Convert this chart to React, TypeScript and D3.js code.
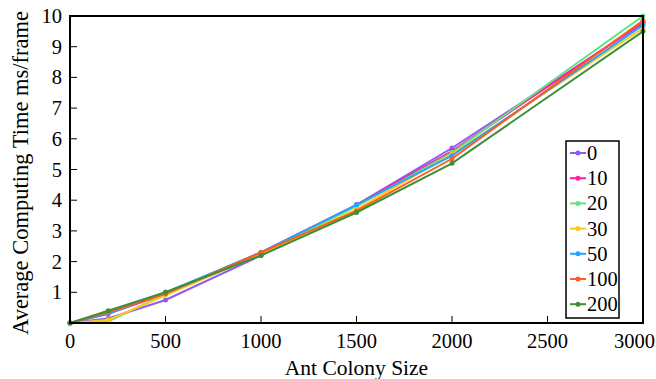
import React from 'react';
import * as d3 from 'd3';

const sizes = [0, 200, 500, 1000, 1500, 2000, 3000];
const seriesNames = ['0', '10', '20', '30', '50', '100', '200'];
const seriesColors = ['#8f5cf6', '#ff1fa0', '#5ee383', '#ffc61a', '#1fa6ff', '#ff5c1f', '#3d8f3d'];
const v0 = [0, 0.15, 0.75, 2.2, 3.85, 5.7, 9.75];
const v10 = [0, 0.3, 0.95, 2.3, 3.85, 5.6, 9.8];
const v20 = [0, 0.05, 0.95, 2.25, 3.8, 5.55, 10.0];
const v30 = [0, 0.1, 0.9, 2.25, 3.7, 5.5, 9.6];
const v50 = [0, 0.3, 1.0, 2.3, 3.85, 5.45, 9.7];
const v100 = [0, 0.35, 0.95, 2.3, 3.65, 5.35, 9.85];
const v200 = [0, 0.4, 1.0, 2.2, 3.6, 5.2, 9.5];
const seriesValues = [v0, v10, v20, v30, v50, v100, v200];
const xTicks = [0, 500, 1000, 1500, 2000, 2500, 3000];
const yTicks = [1, 2, 3, 4, 5, 6, 7, 8, 9, 10];

const W = 656;
const H = 379;
const font = 'Liberation Serif';

export default function App() {
  const left = 70, right = 643, top = 16, bottom = 323;
  const x = d3.scaleLinear().domain([0, 3000]).range([left, right]);
  const y = d3.scaleLinear().domain([0, 10]).range([bottom, top]);
  const line = d3.line<number>().x((_, i) => x(sizes[i])).y(d => y(d));

  const legX = 566, legY = 141, legW = 53, legH = 177, legStep = 25.2;
  const txt = { fontFamily: font };

  return (
    <svg width={W} height={H} style={{ position: 'absolute', left: 0, top: 0 }}>
      <rect width={W} height={H} fill="#fff" />
      {/* ticks */}
      {xTicks.slice(1, -1).map(t => (
        <line key={'xt' + t} x1={x(t)} x2={x(t)} y1={bottom} y2={bottom - 7} stroke="#000" strokeWidth={1} />
      ))}
      {yTicks.slice(0, -1).map(t => (
        <line key={'yt' + t} x1={left} x2={left + 7} y1={y(t)} y2={y(t)} stroke="#000" strokeWidth={1} />
      ))}
      {xTicks.map(t => (
        <text key={'xl' + t} x={t === 3000 ? W - 1 : x(t)} y={bottom + 25} fontSize={20.5}
          textAnchor={t === 3000 ? 'end' : 'middle'} style={txt}>{t}</text>
      ))}
      {yTicks.map(t => (
        <text key={'yl' + t} x={left - 8} y={y(t) + 7} fontSize={20.5} textAnchor="end" style={txt}>{t}</text>
      ))}
      {/* series */}
      {seriesValues.map((vals, i) => (
        <g key={'s' + i}>
          <path d={line(vals) || ''} fill="none" stroke={seriesColors[i]} strokeWidth={2} />
          {vals.map((v, j) => (
            <circle key={j} cx={x(sizes[j])} cy={y(v)} r={2.5} fill={seriesColors[i]} />
          ))}
        </g>
      ))}
      {/* frame */}
      <rect x={left} y={top} width={right - left} height={bottom - top} fill="none" stroke="#000" strokeWidth={2} />
      {/* legend */}
      <rect x={legX} y={legY} width={legW} height={legH} fill="#fff" stroke="#000" strokeWidth={1.5} />
      {seriesNames.map((n, i) => {
        const cy = legY + 12 + i * legStep;
        return (
          <g key={'lg' + i}>
            <line x1={legX + 4} x2={legX + 20} y1={cy} y2={cy} stroke={seriesColors[i]} strokeWidth={2} />
            <circle cx={legX + 12} cy={cy} r={2.5} fill={seriesColors[i]} />
            <text x={legX + 21} y={cy + 7} fontSize={20.5} style={txt}>{n}</text>
          </g>
        );
      })}
      {/* axis titles */}
      <text x={(left + right) / 2} y={375} fontSize={21.5} textAnchor="middle" style={txt}>Ant Colony Size</text>
      <text transform="translate(28, 173) rotate(-90)" fontSize={22.5} textAnchor="middle" style={txt}>
        Average Computing Time ms/frame
      </text>
    </svg>
  );
}
